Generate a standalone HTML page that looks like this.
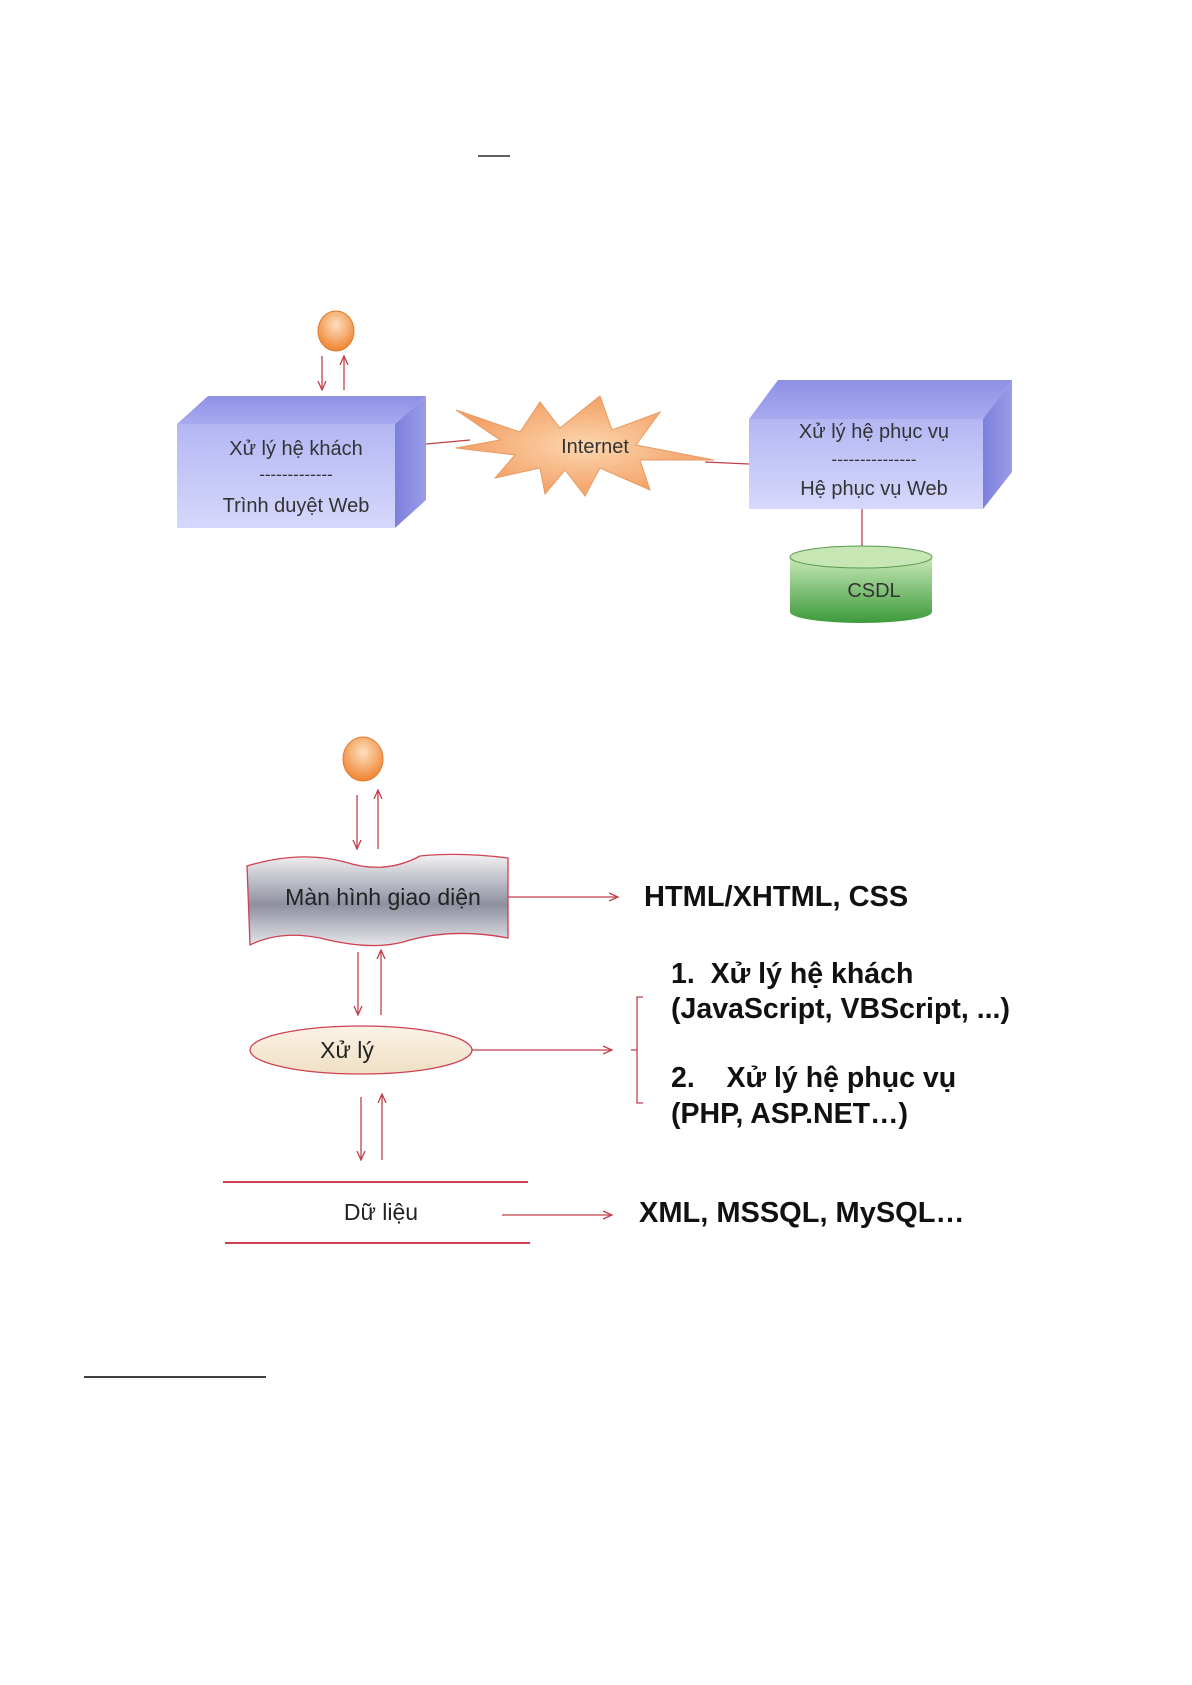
<!DOCTYPE html>
<html><head><meta charset="utf-8"><style>
html,body{margin:0;padding:0;background:#fff;}
svg{display:block;}
text{font-family:"Liberation Sans",sans-serif;}
</style></head><body>
<svg width="1192" height="1685" viewBox="0 0 1192 1685" xmlns="http://www.w3.org/2000/svg">
<defs>
<marker id="ah" markerWidth="10" markerHeight="10" refX="9" refY="5" orient="auto" markerUnits="userSpaceOnUse"><path d="M0,1 L9,5 L0,9" fill="none" stroke="#c0404a" stroke-width="1.3"/></marker>
<linearGradient id="bf" x1="0" y1="0" x2="0" y2="1"><stop offset="0" stop-color="#b4b6f4"/><stop offset="1" stop-color="#d6d8fb"/></linearGradient>
<linearGradient id="bt" x1="0" y1="0" x2="0" y2="1"><stop offset="0" stop-color="#8e90e6"/><stop offset="1" stop-color="#a8aaf0"/></linearGradient>
<linearGradient id="bs" x1="0" y1="0" x2="1" y2="0"><stop offset="0" stop-color="#7d80dc"/><stop offset="1" stop-color="#9a9ce8"/></linearGradient>
<radialGradient id="circ" cx="0.5" cy="0.35" r="0.6"><stop offset="0" stop-color="#fde0c0"/><stop offset="1" stop-color="#f08a3a"/></radialGradient>
<radialGradient id="star" cx="0.5" cy="0.5" r="0.5"><stop offset="0" stop-color="#fcd6b0"/><stop offset="1" stop-color="#f3a065"/></radialGradient>
<linearGradient id="cyl" x1="0" y1="0" x2="0" y2="1"><stop offset="0" stop-color="#c8e8b8"/><stop offset="1" stop-color="#3c9a3a"/></linearGradient>
<linearGradient id="ban" x1="0" y1="0" x2="0" y2="1"><stop offset="0" stop-color="#f2f2f4"/><stop offset="0.55" stop-color="#8e90a0"/><stop offset="1" stop-color="#e6e6ea"/></linearGradient>
<linearGradient id="ell" x1="0" y1="0" x2="0" y2="1"><stop offset="0" stop-color="#fbf3e6"/><stop offset="1" stop-color="#f0dfc4"/></linearGradient>
</defs>

<line x1="478" y1="156" x2="510" y2="156" stroke="#000" stroke-width="1.3"/>

<!-- Part 1 -->
<ellipse cx="336" cy="331" rx="18" ry="20" fill="url(#circ)" stroke="#e07a30" stroke-width="1"/>
<line x1="322" y1="356" x2="322" y2="390" stroke="#c0404a" stroke-width="1.3" marker-end="url(#ah)"/>
<line x1="344" y1="390" x2="344" y2="356" stroke="#c0404a" stroke-width="1.3" marker-end="url(#ah)"/>

<polygon points="177,424 208,396 426,396 395,424" fill="url(#bt)"/>
<polygon points="395,424 426,396 426,500 395,528" fill="url(#bs)"/>
<rect x="177" y="424" width="218" height="104" fill="url(#bf)"/>
<text x="296" y="455" font-size="20" text-anchor="middle" fill="#333">Xử lý hệ khách</text>
<text x="296" y="480" font-size="17" text-anchor="middle" fill="#333">-------------</text>
<text x="296" y="512" font-size="20" text-anchor="middle" fill="#333">Trình duyệt Web</text>

<line x1="426" y1="444" x2="470" y2="440" stroke="#c0404a" stroke-width="1.3"/>
<line x1="705" y1="462" x2="749" y2="464" stroke="#c0404a" stroke-width="1.3"/>
<polygon fill="url(#star)" stroke="#e89a60" stroke-width="1" points="456,410 520,432 540,402 560,428 600,396 612,430 660,412 636,445 714,460 640,460 650,490 600,468 585,496 565,470 545,494 540,468 495,478 515,455 456,448 500,440"/>
<text x="595" y="453" font-size="20" text-anchor="middle" fill="#333">Internet</text>

<polygon points="749,419 778,380 1012,380 983,419" fill="url(#bt)"/>
<polygon points="983,419 1012,380 1012,472 983,509" fill="url(#bs)"/>
<rect x="749" y="419" width="234" height="90" fill="url(#bf)"/>
<text x="874" y="438" font-size="20" text-anchor="middle" fill="#333">Xử lý hệ phục vụ</text>
<text x="874" y="465" font-size="17" text-anchor="middle" fill="#333">---------------</text>
<text x="874" y="495" font-size="20" text-anchor="middle" fill="#333">Hệ phục vụ Web</text>

<line x1="862" y1="509" x2="862" y2="550" stroke="#c0404a" stroke-width="1.3"/>
<path d="M790,557 L790,612 A71,11 0 0 0 932,612 L932,557" fill="url(#cyl)"/>
<ellipse cx="861" cy="557" rx="71" ry="11" fill="#c6e6b4" stroke="#5a9a50" stroke-width="1"/>
<text x="874" y="597" font-size="20" text-anchor="middle" fill="#333">CSDL</text>

<!-- Part 2 -->
<ellipse cx="363" cy="759" rx="20" ry="22" fill="url(#circ)" stroke="#e07a30" stroke-width="1"/>
<line x1="357" y1="795" x2="357" y2="849" stroke="#c0404a" stroke-width="1.3" marker-end="url(#ah)"/>
<line x1="378" y1="849" x2="378" y2="790" stroke="#c0404a" stroke-width="1.3" marker-end="url(#ah)"/>

<path d="M247,866 Q300,850 345,862 Q385,875 420,856 Q460,852 508,858 L508,938 Q455,928 410,940 Q375,952 320,938 Q280,930 250,945 Z" fill="url(#ban)" stroke="#d04050" stroke-width="1.3"/>
<text x="383" y="905" font-size="23" text-anchor="middle" fill="#222">Màn hình giao diện</text>
<line x1="508" y1="897" x2="618" y2="897" stroke="#c0404a" stroke-width="1.3" marker-end="url(#ah)"/>
<text x="644" y="906" font-size="29" font-weight="bold" fill="#111">HTML/XHTML, CSS</text>

<line x1="358" y1="952" x2="358" y2="1015" stroke="#c0404a" stroke-width="1.3" marker-end="url(#ah)"/>
<line x1="381" y1="1015" x2="381" y2="950" stroke="#c0404a" stroke-width="1.3" marker-end="url(#ah)"/>

<ellipse cx="361" cy="1050" rx="111" ry="24" fill="url(#ell)" stroke="#d04050" stroke-width="1.3"/>
<text x="347" y="1058" font-size="23" text-anchor="middle" fill="#222">Xử lý</text>
<line x1="472" y1="1050" x2="612" y2="1050" stroke="#c0404a" stroke-width="1.3" marker-end="url(#ah)"/>
<path d="M643,997 L637,997 L637,1103 L643,1103 M631,1050 L637,1050" fill="none" stroke="#c0404a" stroke-width="1.3"/>
<text x="671" y="983" font-size="28.5" font-weight="bold" fill="#111" xml:space="preserve">1.  Xử lý hệ khách</text>
<text x="671" y="1018" font-size="28.5" font-weight="bold" fill="#111">(JavaScript, VBScript, ...)</text>
<text x="671" y="1087" font-size="28.5" font-weight="bold" fill="#111" xml:space="preserve">2.    Xử lý hệ phục vụ</text>
<text x="671" y="1123" font-size="28.5" font-weight="bold" fill="#111">(PHP, ASP.NET…)</text>

<line x1="361" y1="1097" x2="361" y2="1160" stroke="#c0404a" stroke-width="1.3" marker-end="url(#ah)"/>
<line x1="382" y1="1160" x2="382" y2="1094" stroke="#c0404a" stroke-width="1.3" marker-end="url(#ah)"/>

<line x1="223" y1="1182" x2="528" y2="1182" stroke="#d04050" stroke-width="2"/>
<line x1="225" y1="1243" x2="530" y2="1243" stroke="#d04050" stroke-width="2"/>
<text x="381" y="1220" font-size="23" text-anchor="middle" fill="#222">Dữ liệu</text>
<line x1="502" y1="1215" x2="612" y2="1215" stroke="#c0404a" stroke-width="1.3" marker-end="url(#ah)"/>
<text x="639" y="1222" font-size="29" font-weight="bold" fill="#111">XML, MSSQL, MySQL…</text>

<line x1="84" y1="1377" x2="266" y2="1377" stroke="#000" stroke-width="1.5"/>
</svg>
</body></html>
